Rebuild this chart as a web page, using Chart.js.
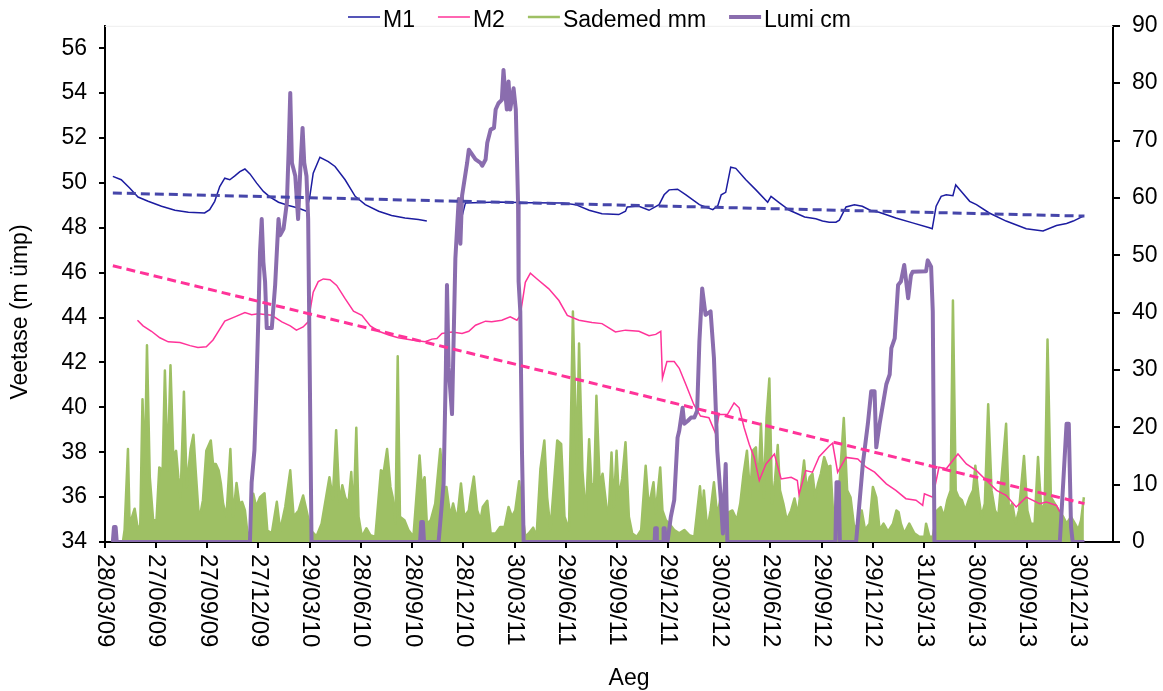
<!DOCTYPE html>
<html lang="et">
<head>
<meta charset="UTF-8">
<title>Veetase</title>
<script src="https://cdn.jsdelivr.net/npm/chart.js@4"></script>
<style>
    html, body { margin: 0; padding: 0; background: #ffffff; }
    #wrap { width: 1163px; height: 691px; }
</style>
</head>
<body>
<div id="wrap"><canvas id="chart" width="1163" height="691"></canvas></div>
<script>
// x values are days counted from 28/03/2009
const START = Date.UTC(2009, 2, 28);
const FONT = '"Liberation Sans", Arial, sans-serif';

const tickLabels = ['28/03/09', '27/06/09', '27/09/09', '27/12/09', '29/03/10', '28/06/10', '28/09/10',
    '28/12/10', '30/03/11', '29/06/11', '29/09/11', '29/12/11', '30/03/12', '29/06/12', '29/09/12',
    '29/12/12', '31/03/13', '30/06/13', '30/09/13', '30/12/13'];
const leftTicks = [34, 36, 38, 40, 42, 44, 46, 48, 50, 52, 54, 56];

// M1 (left axis, m ümp)
const m1Days = [
    14, 29, 44, 59, 77, 101, 125, 149, 178, 187,
    196, 205, 214, 223, 232, 241, 250, 259, 271, 283,
    295, 310, 328, 345, 360, 366, 372, 384, 399, 411,
    429, 447, 465, 489, 512, 536, 560, 575, 600, 638,
    644, 703, 757, 817, 841, 865, 888, 918, 930, 933,
    954, 972, 990, 999, 1008, 1023, 1038, 1062, 1086, 1095,
    1101, 1109, 1118, 1127, 1145, 1163, 1184, 1190, 1205, 1223,
    1250, 1270, 1282, 1294, 1306, 1312, 1324, 1339, 1353, 1368,
    1383, 1413, 1443, 1473, 1478, 1485, 1494, 1503, 1515, 1520,
    1530, 1545, 1557, 1580, 1610, 1646, 1676, 1700, 1718, 1730,
    1748];
const m1Values = [
    50.29, 50.14, 49.77, 49.37, 49.18, 48.96, 48.78, 48.69, 48.66, 48.81,
    49.18, 49.84, 50.21, 50.14, 50.31, 50.50, 50.62, 50.40, 49.99, 49.62,
    49.37, 49.14, 48.99, 48.88, 48.74, 49.40, 50.43, 51.14, 50.95, 50.73,
    50.14, 49.40, 49.03, 48.74, 48.55, 48.44, 48.37, 48.30, null, 48.52,
    49.11, 49.15, 49.12, 49.11, 49.03, 48.78, 48.63, 48.59, 48.74, 48.93,
    48.96, 48.78, 49.03, 49.47, 49.69, 49.72, 49.47, 49.03, 48.81, 48.99,
    49.47, 49.58, 50.70, 50.65, 50.14, 49.69, 49.14, 49.40, 49.11, 48.78,
    48.48, 48.40, 48.30, 48.25, 48.25, 48.34, 48.93, 49.03, 48.96, 48.77,
    48.69, 48.44, 48.22, 48.00, 47.96, 48.96, 49.40, 49.47, 49.43, 49.91,
    49.62, 49.18, 49.03, 48.66, 48.30, 47.96, 47.86, 48.10, 48.19, 48.30,
    48.52];

// M2 (left axis)
const m2Days = [
    58, 68, 83, 98, 113, 134, 152, 166, 181, 193,
    202, 214, 232, 250, 262, 274, 298, 316, 331, 342,
    354, 363, 372, 381, 390, 402, 414, 429, 444, 459,
    474, 489, 507, 524, 548, 572, 584, 593, 602, 620,
    638, 650, 662, 680, 691, 709, 724, 736, 742, 751,
    760, 772, 793, 811, 826, 847, 870, 888, 912, 930,
    954, 972, 984, 993, 996, 1004, 1017, 1026, 1038, 1052,
    1064, 1079, 1091, 1097, 1112, 1124, 1133, 1142, 1151, 1160,
    1169, 1181, 1196, 1208, 1226, 1237, 1240, 1252, 1264, 1276,
    1294, 1300, 1309, 1324, 1345, 1360, 1375, 1396, 1413, 1431,
    1449, 1461, 1464, 1479, 1490, 1503, 1524, 1539, 1557, 1575,
    1593, 1610, 1628, 1646, 1670, 1682, 1700, 1706];
const m2Values = [
    43.88, 43.63, 43.39, 43.10, 42.92, 42.89, 42.75, 42.67, 42.70, 43.00,
    43.36, 43.84, 44.03, 44.22, 44.13, 44.17, 44.10, 43.81, 43.63, 43.44,
    43.58, 43.81, 45.13, 45.60, 45.72, 45.69, 45.43, 44.84, 44.28, 44.10,
    43.63, 43.39, 43.22, 43.10, 43.00, 42.92, 43.04, 43.07, 43.29, 43.36,
    43.29, 43.39, 43.66, 43.84, 43.81, 43.88, 44.03, 43.88, 44.10, 45.57,
    45.98, 45.72, 45.28, 44.76, 44.10, 43.88, 43.78, 43.73, 43.36, 43.44,
    43.39, 43.19, 43.25, 43.39, 41.30, 42.04, 42.04, 41.74, 41.01, 40.13,
    39.61, 39.54, 38.83, 39.68, 39.68, 40.20, 39.98, 39.09, 38.36, 37.77,
    36.74, 37.48, 37.92, 36.81, 36.88, 36.74, 36.12, 37.18, 37.11, 37.80,
    38.28, 38.40, 37.11, 37.77, 37.70, 37.33, 37.11, 36.59, 36.30, 35.93,
    35.86, 35.63, 36.15, 36.00, 37.33, 37.26, 37.92, 37.48, 37.18, 36.74,
    36.30, 36.08, 35.56, 36.00, 35.71, 35.78, 35.63, 35.34];

// Sademed mm (right axis)
const rainDays = [
    32, 35, 41, 44, 53, 59, 63, 67, 71, 75,
    80, 86, 92, 97, 103, 107, 112, 117, 122, 127,
    131, 135, 141, 146, 153, 158, 162, 167, 171, 175,
    181, 189, 193, 198, 203, 207, 211, 217, 224, 229,
    235, 240, 245, 250, 254, 259, 265, 270, 277, 285,
    290, 298, 307, 313, 322, 331, 337, 346, 354, 360,
    368, 378, 387, 395, 401, 407, 413, 419, 424, 429,
    435, 440, 444, 449, 453, 459, 467, 474, 483, 493,
    498, 504, 510, 514, 519, 523, 527, 535, 542, 551,
    562, 566, 571, 575, 582, 590, 599, 605, 610, 617,
    622, 629, 636, 642, 650, 653, 659, 665, 671, 675,
    683, 689, 698, 706, 714, 721, 727, 733, 740, 745,
    751, 757, 765, 771, 778, 785, 790, 796, 808, 815,
    821, 829, 836, 843, 847, 853, 859, 865, 869, 874,
    878, 884, 889, 896, 900, 905, 909, 914, 918, 924,
    930, 936, 942, 950, 958, 966, 971, 975, 980, 984,
    992, 996, 1002, 1008, 1017, 1026, 1035, 1044, 1053, 1063,
    1067, 1070, 1076, 1082, 1088, 1094, 1101, 1107, 1115, 1121,
    1129, 1135, 1141, 1147, 1153, 1157, 1163, 1167, 1172, 1177,
    1182, 1187, 1192, 1197, 1202, 1206, 1212, 1218, 1226, 1232,
    1238, 1243, 1249, 1254, 1259, 1264, 1269, 1274, 1279, 1285,
    1291, 1296, 1302, 1307, 1312, 1320, 1326, 1332, 1338, 1345,
    1352, 1358, 1366, 1372, 1378, 1384, 1391, 1399, 1408, 1414,
    1418, 1422, 1428, 1437, 1446, 1455, 1464, 1467, 1473, 1479,
    1487, 1493, 1499, 1505, 1511, 1515, 1520, 1525, 1531, 1537,
    1545, 1551, 1555, 1561, 1566, 1572, 1578, 1584, 1590, 1596,
    1601, 1610, 1615, 1621, 1627, 1633, 1642, 1648, 1654, 1661,
    1667, 1673, 1679, 1684, 1690, 1697, 1704, 1712, 1718, 1726,
    1733, 1739, 1744, 1749];
const rainValues = [
    0, 2.1, 16.2, 3, 5.8, 2, 3, 24.9, 11.9, 34.3,
    11.3, 3.8, 3.8, 13.0, 12.5, 29.9, 12.5, 30.8, 14.8, 15.9,
    11.3, 7.8, 26.2, 9.6, 16.2, 18.7, 12.5, 5.2, 5.2, 7.3,
    15.9, 17.7, 13.6, 13.6, 12.5, 10.2, 6.7, 4.4, 16.2, 4.4,
    10.3, 6.7, 7.0, 5.5, 2, 0.5, 8.4, 6.1, 7.8, 8.5,
    2, 1.5, 7.0, 2, 6.1, 12.5, 4.4, 5.5, 8.1, 5.5,
    2, 1, 3.2, 7.8, 11.3, 7.5, 19.5, 6.7, 9.9, 7.8,
    6.7, 12.2, 4.4, 19.9, 4.4, 0.9, 2.4, 1.2, 0.9, 12.5,
    12.2, 16.2, 9.6, 7.8, 3.2, 32.4, 4.4, 3.8, 2.1, 0.9,
    15.1, 9.6, 11.3, 3.2, 3.8, 6.7, 16.2, 9.6, 9.6, 4.4,
    6.7, 3.8, 10.2, 4.4, 5.5, 7.8, 11.4, 5.5, 3.8, 6.1,
    7.2, 1.5, 1.5, 2.6, 2.6, 6.1, 4.4, 5.5, 10.6, 5.5,
    0.9, 1.5, 2.5, 0.9, 12.8, 17.7, 7.8, 2.1, 17.7, 17.1,
    4.4, 2.1, 40.2, 13.6, 34.6, 12.5, 4.4, 17.9, 10.2, 9.9,
    25.5, 9.9, 11.9, 6.1, 5.0, 15.6, 6.1, 15.9, 7.8, 11.0,
    17.4, 4.4, 1.5, 0.9, 2.1, 13.3, 6.7, 7.8, 10.4, 5.0,
    13.0, 5.5, 3.8, 3.2, 2.1, 1.5, 2.1, 1.2, 0.9, 9.7,
    4.7, 9.0, 2.1, 5.5, 10.4, 4.4, 8.4, 4.4, 5.2, 5.5,
    3.8, 6.7, 11.9, 15.9, 7.8, 15.9, 16.5, 9.0, 20.6, 7.8,
    21.7, 28.5, 6.7, 10.7, 16.9, 9.0, 6.7, 3.8, 5.5, 7.6,
    4.7, 9.0, 14.2, 9.0, 11.3, 11.9, 7.8, 10.2, 11.9, 14.8,
    13.0, 13.3, 3.2, 7.8, 9.6, 21.6, 9.0, 7.8, 3.0, 2.1,
    5.5, 2.1, 3.2, 9.6, 7.8, 2.1, 3.2, 1.8, 3.2, 5.5,
    5.2, 3.2, 1.5, 3.2, 1.5, 0.9, 0.9, 3.2, 0.9, 0.9,
    5.5, 6.1, 4.4, 7.3, 9.0, 42.1, 9.0, 7.8, 7.3, 5.5,
    7.8, 9.0, 13.3, 7.8, 4.4, 6.7, 24.0, 9.0, 5.5, 4.4,
    10.2, 20.6, 5.5, 6.7, 3.2, 5.5, 15.0, 5.5, 3.2, 3.2,
    14.8, 5.5, 6.7, 35.3, 7.8, 6.7, 5.5, 4.4, 3.2, 4.4,
    3.2, 2.1, 3.8, 7.8];

// Lumi cm (right axis)
const lumiDays = [
    14, 16, 19, 21, 259, 262, 267, 270, 274, 277,
    280, 283, 286, 289, 298, 304, 310, 313, 319, 325,
    328, 331, 334, 340, 345, 349, 353, 356, 360, 363,
    369, 563, 565, 568, 570, 596, 605, 609, 611, 614,
    620, 626, 629, 632, 635, 638, 647, 650, 662, 671,
    674, 680, 683, 689, 695, 698, 703, 709, 712, 715,
    718, 721, 724, 730, 734, 738, 739, 742, 745, 748,
    982, 983, 985, 986, 997, 998, 1000, 1001, 1005, 1011,
    1017, 1023, 1026, 1032, 1035, 1041, 1047, 1053, 1058, 1062,
    1067, 1073, 1082, 1088, 1094, 1100, 1104, 1109, 1112, 1305,
    1307, 1311, 1313, 1342, 1354, 1363, 1369, 1375, 1378, 1384,
    1396, 1402, 1405, 1411, 1417, 1422, 1428, 1435, 1440, 1443,
    1467, 1470, 1476, 1479, 1482, 1706, 1712, 1718, 1722, 1726,
    1729, 1750];
const lumiValues = [
    0, 2.6, 2.6, 0, 0, 10.4, 16, 25, 39, 50.6,
    56.3, 48.8, 45.4, 37.3, 37.3, 44.8, 56.3, 53.5, 54.6, 59.2,
    67.9, 78.3, 66.1, 63.8, 56.3, 65.0, 72.2, 66.1, 63.8, 56.3,
    0, 0, 3.5, 3.5, 0, 0, 10.2, 30, 44.8, 30.4,
    22.3, 49.4, 54.6, 59.8, 52, 60.4, 66.1, 68.4, 66.7, 66.1,
    65.6, 66.7, 69.6, 71.9, 72.2, 75.4, 76.5, 77.1, 82.3, 78.3,
    75.4, 80.3, 75.4, 79.1, 75.4, 59.2, 45.4, 40.2, 15.9, 0,
    0, 2.4, 2.4, 0, 0, 2.4, 2.4, 0, 0, 4.4,
    7.3, 18.2, 19.4, 23.4, 20.6, 21.1, 21.7, 21.7, 22.9, 35.0,
    44.2, 39.6, 40.2, 32.1, 15.9, 7.8, 1.5, 13.6, 0, 0,
    10.4, 10.4, 0, 0, 13.6, 20.6, 26.3, 26.3, 16.5, 20.6,
    27.5, 29.2, 33.8, 35.5, 44.8, 45.4, 48.3, 42.5, 46.5, 47.1,
    47.2, 49.1, 48.0, 40.2, 0, 0, 10.2, 20.6, 20.6, 2.6,
    0, 0];

// linear trend lines (end points)
const trendDays = [14, 1750];
const m1Trend = [49.55, 48.52];
const m2Trend = [46.31, 35.71];

function dayOf(label) {
    const [d, m, y] = label.split('/').map(Number);
    return Math.round((Date.UTC(2000 + y, m - 1, d) - START) / 86400000);
}
const tickDays = tickLabels.map(dayOf);
const pts = (days, vals) => days.map((d, i) => ({ x: d, y: vals[i] }));

const axisGrid = { drawOnChartArea: false, color: '#000', lineWidth: 2, tickLength: 6 };
const axisBorder = { display: true, color: '#000', width: 2 };

// legend, rotated date labels and axis titles
const decor = {
    id: 'decor',
    afterDraw(chart) {
        const { ctx, chartArea } = chart;
        const x = chart.scales.x;
        ctx.save();
        ctx.fillStyle = '#000';

        // faint plot border at the top
        ctx.strokeStyle = '#eeeeee';
        ctx.lineWidth = 1;
        ctx.beginPath();
        ctx.moveTo(chartArea.left, chartArea.top + 0.5);
        ctx.lineTo(chartArea.right, chartArea.top + 0.5);
        ctx.stroke();

        ctx.font = '24px ' + FONT;
        ctx.textAlign = 'left';
        ctx.textBaseline = 'middle';
        tickDays.forEach((d, i) => {
            ctx.save();
            ctx.translate(x.getPixelForValue(d), chartArea.bottom + 12);
            ctx.rotate(Math.PI / 2);
            ctx.fillText(tickLabels[i], 0, 0);
            ctx.restore();
        });

        ctx.font = '23px ' + FONT;
        ctx.textAlign = 'center';
        ctx.fillText('Aeg', 629, 679);
        ctx.save();
        ctx.translate(21, 312);
        ctx.rotate(-Math.PI / 2);
        ctx.fillText('Veetase (m ümp)', 0, 0);
        ctx.restore();

        // legend
        ctx.textAlign = 'left';
        let lx = 348;
        chart.data.datasets.slice(0, 4).forEach(ds => {
            ctx.strokeStyle = ds.borderColor;
            ctx.lineWidth = ds.borderWidth;
            ctx.beginPath();
            ctx.moveTo(lx, 17);
            ctx.lineTo(lx + 32, 17);
            ctx.stroke();
            ctx.fillText(ds.label, lx + 35, 21);
            lx += 35 + ctx.measureText(ds.label).width + 23;
        });
        ctx.restore();
    }
};

new Chart(document.getElementById('chart'), {
    type: 'line',
    data: {
        datasets: [
            { label: 'M1', data: pts(m1Days, m1Values), yAxisID: 'y', borderColor: '#1c1ca0',
              borderWidth: 1.5, pointRadius: 0, order: 3 },
            { label: 'M2', data: pts(m2Days, m2Values), yAxisID: 'y', borderColor: '#ff3399',
              borderWidth: 1.5, pointRadius: 0, order: 2 },
            { label: 'Sademed mm', data: pts(rainDays, rainValues), yAxisID: 'y2', borderColor: '#9ec064',
              backgroundColor: '#9ec064', fill: 'origin', borderWidth: 2.5, borderJoinStyle: 'round',
              pointRadius: 0, order: 5 },
            { label: 'Lumi cm', data: pts(lumiDays, lumiValues), yAxisID: 'y2', borderColor: '#8a6dae',
              borderWidth: 4, borderJoinStyle: 'round', pointRadius: 0, order: 1 },
            { label: 'M1 trend', data: pts(trendDays, m1Trend), yAxisID: 'y', borderColor: '#4646aa',
              borderWidth: 3, borderDash: [9, 5], pointRadius: 0, order: 0 },
            { label: 'M2 trend', data: pts(trendDays, m2Trend), yAxisID: 'y', borderColor: '#ff3399',
              borderWidth: 3, borderDash: [9, 5], pointRadius: 0, order: 0 }
        ]
    },
    options: {
        responsive: false,
        animation: false,
        layout: { padding: { top: 22, left: 0, right: 0, bottom: 0 } },
        plugins: { legend: { display: false }, tooltip: { enabled: false } },
        scales: {
            x: {
                type: 'linear', min: 0, max: 1801,
                afterBuildTicks: s => { s.ticks = tickDays.map(v => ({ value: v })); },
                afterFit: s => { s.height = 149; },
                ticks: { display: false },
                grid: axisGrid, border: axisBorder
            },
            y: {
                position: 'left', min: 34, max: 57,
                afterBuildTicks: s => { s.ticks = leftTicks.map(v => ({ value: v })); },
                afterFit: s => { s.width = 105; },
                ticks: { color: '#000', padding: 12, font: { family: FONT, size: 23 } },
                grid: axisGrid, border: axisBorder
            },
            y2: {
                position: 'right', min: 0, max: 90,
                afterFit: s => { s.width = 50; },
                ticks: { stepSize: 10, color: '#000', padding: 12, font: { family: FONT, size: 23 } },
                grid: Object.assign({}, axisGrid, { tickLength: 7 }), border: axisBorder
            }
        }
    },
    plugins: [decor]
});
</script>
</body>
</html>
